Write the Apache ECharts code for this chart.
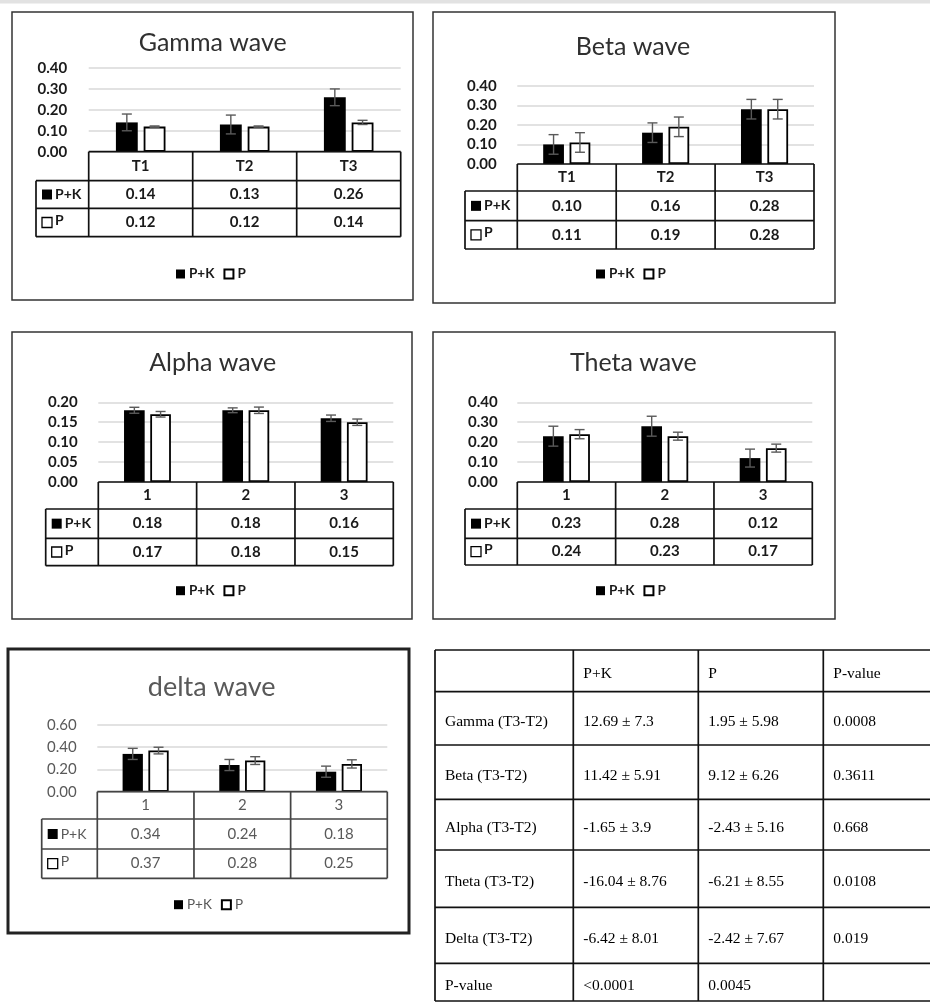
<!DOCTYPE html>
<html><head><meta charset="utf-8">
<script src="https://cdn.jsdelivr.net/npm/echarts@6/dist/echarts.min.js"></script>
<style>html,body{margin:0;padding:0;background:#fff;}#c{width:930px;height:1006px;}</style>
</head><body><div id="c"></div>
<script>
// ---------------- DATA ----------------
const seriesNames = ['P+K', 'P'];
const panelTitles = ['Gamma wave', 'Beta wave', 'Alpha wave', 'Theta wave', 'delta wave'];

const gammaCats = ['T1', 'T2', 'T3'];
const gammaPK = [0.14, 0.13, 0.26];
const gammaP = [0.12, 0.12, 0.14];
const gammaPKErr = [0.04, 0.045, 0.04];
const gammaPErr = [0.003, 0.003, 0.01];
const gammaTicks = [0, 0.1, 0.2, 0.3, 0.4];

const betaCats = ['T1', 'T2', 'T3'];
const betaPK = [0.10, 0.16, 0.28];
const betaP = [0.11, 0.19, 0.28];
const betaPKErr = [0.05, 0.05, 0.05];
const betaPErr = [0.05, 0.05, 0.05];
const betaTicks = [0, 0.1, 0.2, 0.3, 0.4];

const alphaCats = ['1', '2', '3'];
const alphaPK = [0.18, 0.18, 0.16];
const alphaP = [0.17, 0.18, 0.15];
const alphaPKErr = [0.0075, 0.006, 0.008];
const alphaPErr = [0.007, 0.008, 0.008];
const alphaTicks = [0, 0.05, 0.1, 0.15, 0.2];

const thetaCats = ['1', '2', '3'];
const thetaPK = [0.23, 0.28, 0.12];
const thetaP = [0.24, 0.23, 0.17];
const thetaPKErr = [0.05, 0.05, 0.045];
const thetaPErr = [0.023, 0.02, 0.02];
const thetaTicks = [0, 0.1, 0.2, 0.3, 0.4];

const deltaCats = ['1', '2', '3'];
const deltaPK = [0.34, 0.24, 0.18];
const deltaP = [0.37, 0.28, 0.25];
const deltaPKErr = [0.05, 0.05, 0.05];
const deltaPErr = [0.03, 0.035, 0.037];
const deltaTicks = [0, 0.2, 0.4, 0.6];

const statsHeader = ['', 'P+K', 'P', 'P-value'];
const statsRowLabels = ['Gamma (T3-T2)', 'Beta (T3-T2)', 'Alpha (T3-T2)', 'Theta (T3-T2)', 'Delta (T3-T2)', 'P-value'];
const statsPK = ['12.69 \u00b1 7.3', '11.42 \u00b1 5.91', '-1.65 \u00b1 3.9', '-16.04 \u00b1 8.76', '-6.42 \u00b1 8.01', '<0.0001'];
const statsP = ['1.95 \u00b1 5.98', '9.12 \u00b1 6.26', '-2.43 \u00b1 5.16', '-6.21 \u00b1 8.55', '-2.42 \u00b1 7.67', '0.0045'];
const statsPval = ['0.0008', '0.3611', '0.668', '0.0108', '0.019', ''];

// ---------------- LAYOUT ----------------
const panelData = [
  {cats: gammaCats, pk: gammaPK, p: gammaP, pkErr: gammaPKErr, pErr: gammaPErr, ticks: gammaTicks},
  {cats: betaCats, pk: betaPK, p: betaP, pkErr: betaPKErr, pErr: betaPErr, ticks: betaTicks},
  {cats: alphaCats, pk: alphaPK, p: alphaP, pkErr: alphaPKErr, pErr: alphaPErr, ticks: alphaTicks},
  {cats: thetaCats, pk: thetaPK, p: thetaP, pkErr: thetaPKErr, pErr: thetaPErr, ticks: thetaTicks},
  {cats: deltaCats, pk: deltaPK, p: deltaP, pkErr: deltaPKErr, pErr: deltaPErr, ticks: deltaTicks}
];
const layouts = [
  {box:[12,12,401,288], grid:[88.7,68,312,83.7], rows:[151.7,180.7,208.3,236.7], colLeft:36, title:[212.7,46], legend:[215,275], yMargin:21.5, titleSize:25},
  {box:[433,12,402,291], grid:[517.3,85.7,296.7,78.3], rows:[164,191,220.7,249], colLeft:465, title:[633,49.5], legend:[635,275], yMargin:20.6, titleSize:25},
  {box:[12,332,400,287], grid:[98.3,402.3,295,79.7], rows:[482,509,538.3,565.7], colLeft:45.7, title:[212.7,365.5], legend:[215,591.7], yMargin:20.6, titleSize:25},
  {box:[433,332,402,287], grid:[517.3,402.3,295,79.7], rows:[482,509,538.3,565], colLeft:465, title:[633.3,365.5], legend:[635,591.7], yMargin:19.6, titleSize:25},
  {box:[8,649,401,284], grid:[97.3,725,290,66.7], rows:[791.7,819,849,878.3], colLeft:41.7, title:[211.7,690.5], legend:[213,905.7], yMargin:20.6, titleSize:27, light:true}
];
const BAR_W = 0.21, BAR_GAP = 0.27;
const FONT = 'Lato, "Open Sans", sans-serif';
const LBL = 15;

function txt(x, y, text, font, fill, align, valign) {
  return {type:'text', x:x, y:y, silent:true, z:50,
    style:{text:text, font:font, fill:fill, align:align, textAlign:align, verticalAlign:valign, textVerticalAlign:valign}};
}
function ln(x1, y1, x2, y2, stroke, w) {
  return {type:'line', silent:true, z:40, shape:{x1:x1,y1:y1,x2:x2,y2:y2}, style:{stroke:stroke, lineWidth:w}};
}

const grids = [], xAxes = [], yAxes = [], series = [], titles = [], legends = [], graphics = [];
graphics.push({type:'rect', silent:true, z:0, shape:{x:0,y:0,width:930,height:3.5}, style:{fill:'#e2e2e2'}});

layouts.forEach((L, i) => {
  const D = panelData[i];
  const light = !!L.light;
  const txtColor = light ? '#595959' : '#1a1a1a';
  const weight = light ? 'normal' : 'bold';
  const lineColor = light ? '#444' : '#111';
  const [gl, gt, gw, gh] = L.grid;
  grids.push({left:gl, top:gt, width:gw, height:gh});
  const rowMid = k => (L.rows[k] + L.rows[k+1]) / 2 - L.rows[0];
  const baseX = {type:'category', gridIndex:i, position:'bottom', boundaryGap:true,
    axisLine:{show:false}, axisTick:{show:false}, splitLine:{show:false}};
  xAxes.push(Object.assign({}, baseX, {data: D.cats,
    axisLabel:{interval:0, margin:rowMid(0), verticalAlign:'middle', fontFamily:FONT, fontSize:LBL, fontWeight:weight, color:txtColor}}));
  [D.pk, D.p].forEach((vals, r) => {
    xAxes.push(Object.assign({}, baseX, {data: D.cats,
      axisLabel:{interval:0, margin:rowMid(r+1), verticalAlign:'middle', fontFamily:FONT, fontSize:LBL, fontWeight:weight, color:txtColor,
        formatter:(v, idx) => vals[idx].toFixed(2)}}));
  });
  const t = D.ticks;
  yAxes.push({type:'value', gridIndex:i, min:t[0], max:t[t.length-1], interval:t[1]-t[0],
    axisLine:{show:false}, axisTick:{show:false},
    axisLabel:{margin:L.yMargin, fontFamily:FONT, fontSize:LBL, fontWeight:weight, color:txtColor, formatter:v => v.toFixed(2)},
    splitLine:{lineStyle:{color:'#d9d9d9', width:1.5}}});
  series.push({type:'bar', name:seriesNames[0], xAxisIndex:3*i, yAxisIndex:i, data:D.pk, barWidth:(BAR_W*100)+'%', barGap:(BAR_GAP*100)+'%',
    itemStyle:{color:'#000', borderColor:'#000', borderWidth:0}, silent:true, z:10});
  series.push({type:'bar', name:seriesNames[1], xAxisIndex:3*i, yAxisIndex:i, data:D.p, barWidth:(BAR_W*100)+'%', barGap:(BAR_GAP*100)+'%',
    itemStyle:{color:'#fff', borderColor:'#000', borderWidth:1.8}, silent:true, z:10});
  const errData = [];
  D.pk.forEach((v, k) => errData.push([k, v, D.pkErr[k], -1]));
  D.p.forEach((v, k) => errData.push([k, v, D.pErr[k], 1]));
  series.push({type:'custom', name:'err'+i, xAxisIndex:3*i, yAxisIndex:i, data:errData, silent:true, z:20,
    renderItem:(params, api) => {
      const idx = api.value(0), v = api.value(1), e = api.value(2), side = api.value(3);
      const band = api.size([1, 0])[0];
      const bw = band * BAR_W, gap = bw * BAR_GAP;
      const cx = api.coord([idx, v])[0] + side * (bw + gap) / 2;
      const top = api.coord([idx, v + e])[1], bot = api.coord([idx, v - e])[1];
      const st = {stroke:'#5a5a5a', lineWidth:1.4};
      const cap = 5;
      return {type:'group', children:[
        {type:'line', shape:{x1:cx, y1:top, x2:cx, y2:bot}, style:st},
        {type:'line', shape:{x1:cx-cap, y1:top, x2:cx+cap, y2:top}, style:st},
        {type:'line', shape:{x1:cx-cap, y1:bot, x2:cx+cap, y2:bot}, style:st}
      ]};
    }});
  titles.push({text:panelTitles[i], left:L.title[0], top:L.title[1]-L.titleSize*0.62, textAlign:'center', padding:0,
    textStyle:{fontFamily:FONT, fontSize:L.titleSize, fontWeight:'normal', color: light ? '#595959' : '#303030'}});
  legends.push({data:seriesNames.map(n => ({name:n, icon:'rect'})), left:L.legend[0]-39, top:L.legend[1]-8, padding:0,
    itemWidth:9, itemHeight:9, itemGap:9, selectedMode:false, orient:'horizontal',
    textStyle:{fontFamily:FONT, fontSize:13.5, fontWeight:weight, color:txtColor, padding:[0,0,0,-1]}});
  // panel border
  const [bx, by, bw2, bh] = L.box;
  graphics.push({type:'rect', silent:true, z:30, shape:{x:bx, y:by, width:bw2, height:bh},
    style:{fill:'none', stroke: light ? '#222' : '#333', lineWidth: light ? 3 : 1.5}});
  // table lines
  const gr = gl + gw;
  const R = L.rows;
  graphics.push(ln(gl, R[0], gr, R[0], lineColor, 1.7));
  for (let k = 1; k < 4; k++) graphics.push(ln(L.colLeft, R[k], gr, R[k], lineColor, 1.7));
  graphics.push(ln(L.colLeft, R[1], L.colLeft, R[3], lineColor, 1.7));
  for (let k = 0; k <= D.cats.length; k++) {
    const x = gl + k * gw / D.cats.length;
    graphics.push(ln(x, R[0], x, R[3], lineColor, 1.7));
  }
  // row headers
  [0, 1].forEach(r => {
    const cy = (R[r+1] + R[r+2]) / 2;
    graphics.push({type:'rect', silent:true, z:50, shape:{x:L.colLeft+6, y:cy-5, width:10, height:10},
      style: r === 0 ? {fill:'#000'} : {fill:'#fff', stroke:'#000', lineWidth:1.3}});
    graphics.push(txt(L.colLeft+19, cy - (r === 1 ? 2 : 0), seriesNames[r], weight + ' 14px ' + FONT, txtColor, 'left', 'middle'));
  });
});

// statistics table
const colX = [435, 573.3, 698.3, 823.3, 932];
const rowY = [650, 691.7, 745, 799.3, 850, 907.3, 963.3, 1001];
const SERIF = '15.5px "Liberation Serif", "Times New Roman", serif';
rowY.forEach(y => graphics.push(ln(colX[0], y, 930, y, '#111', 1.7)));
colX.slice(0, 4).forEach(x => graphics.push(ln(x, rowY[0], x, rowY[rowY.length-1], '#111', 1.7)));
statsHeader.forEach((h, c) => {
  if (h) graphics.push(txt(colX[c] + 10, (rowY[0] + rowY[1]) / 2 + 3, h, SERIF, '#000', 'left', 'middle'));
});
statsRowLabels.forEach((lab, r) => {
  const cy = (rowY[r+1] + rowY[r+2]) / 2 + 3.5;
  [lab, statsPK[r], statsP[r], statsPval[r]].forEach((s, c) => {
    if (s) graphics.push(txt(colX[c] + 10, cy, s, SERIF, '#000', 'left', 'middle'));
  });
});

const chart = echarts.init(document.getElementById('c'), null, {renderer:'canvas'});
chart.setOption({
  animation:false,
  backgroundColor:'#fff',
  title:titles,
  legend:legends,
  grid:grids,
  xAxis:xAxes,
  yAxis:yAxes,
  series:series,
  graphic:{elements:graphics}
});
</script></body></html>
